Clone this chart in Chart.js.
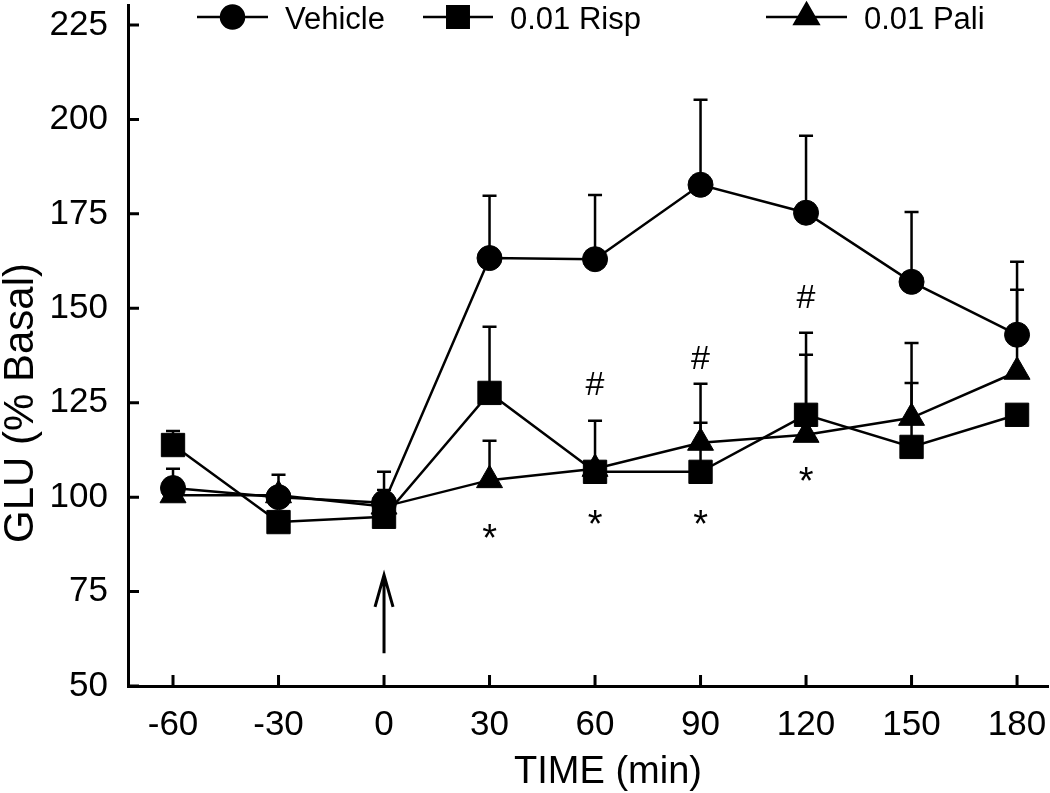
<!DOCTYPE html>
<html>
<head>
<meta charset="utf-8">
<script src="https://cdn.jsdelivr.net/npm/chart.js@4/dist/chart.umd.min.js"></script>
<style>
  body { margin: 0; background: #fff; }
  #wrap { width: 1050px; height: 793px; }
</style>
</head>
<body>
<div id="wrap"><canvas id="glu-chart"></canvas></div>
<script>
// time points (min) and mean GLU (% basal) with upper SEM
const timePoints = [-60, -30, 0, 30, 60, 90, 120, 150, 180];
const vehicle    = [102.4, 100.0, 98.5, 163.3, 163.0, 182.7, 175.3, 157.0, 143.0];
const vehicleErr = [5.1, 5.9, 8.2, 16.5, 17.0, 22.5, 20.4, 18.5, 19.3];
const risp       = [113.8, 93.4, 94.8, 127.6, 106.7, 106.7, 121.8, 113.3, 121.8];
const rispErr    = [3.7, 1.0, 7.1, 17.5, 13.5, 13.0, 21.7, 16.9, 1.0];
const pali       = [100.5, 100.5, 97.5, 104.5, 107.5, 114.4, 116.5, 121.0, 133.2];
const paliErr    = [3.0, 2.0, 1.0, 10.4, 1.0, 15.6, 21.2, 19.8, 21.7];

const xTicks = [-60, -30, 0, 30, 60, 90, 120, 150, 180];
const yTicks = [50, 75, 100, 125, 150, 175, 200, 225];

// significance marks, placed in data units
const marks = [
  { x: 30, y: 91, text: '*' },
  { x: 60, y: 94.8, text: '*' },
  { x: 90, y: 94.8, text: '*' },
  { x: 120, y: 106, text: '*' },
  { x: 60, y: 130.2, text: '#' },
  { x: 90, y: 137.1, text: '#' },
  { x: 120, y: 153, text: '#' }
];
// drug injection arrow at t = 0
const arrow = { x: 0, from: 58.7, to: 79.4 };

const FONT = '"Liberation Sans", Arial, Helvetica, sans-serif';

function pts(vals) {
  return timePoints.map((t, i) => ({ x: t, y: vals[i] }));
}

const errs = [vehicleErr, rispErr, paliErr];

const decor = {
  id: 'decor',
  beforeDatasetsDraw(chart) {
    const ctx = chart.ctx, xs = chart.scales.x, ys = chart.scales.y;
    ctx.save();
    ctx.strokeStyle = '#000';
    ctx.lineWidth = 2.5;
    chart.data.datasets.forEach((ds, di) => {
      ds.data.forEach((p, i) => {
        const px = xs.getPixelForValue(p.x);
        const py = ys.getPixelForValue(p.y);
        const top = ys.getPixelForValue(p.y + errs[di][i]);
        ctx.beginPath();
        ctx.moveTo(px, py);
        ctx.lineTo(px, top);
        ctx.moveTo(px - 7, top);
        ctx.lineTo(px + 7, top);
        ctx.stroke();
      });
    });
    ctx.restore();
  },
  afterDatasetsDraw(chart) {
    const ctx = chart.ctx, xs = chart.scales.x, ys = chart.scales.y;
    const area = chart.chartArea;
    ctx.save();
    ctx.strokeStyle = '#000';
    ctx.fillStyle = '#000';

    // inward tick marks
    ctx.lineWidth = 3;
    ctx.beginPath();
    yTicks.forEach(v => {
      const py = ys.getPixelForValue(v);
      ctx.moveTo(area.left, py);
      ctx.lineTo(area.left + 11, py);
    });
    xTicks.forEach(v => {
      const px = xs.getPixelForValue(v);
      ctx.moveTo(px, area.bottom);
      ctx.lineTo(px, area.bottom - 11);
    });
    ctx.stroke();

    // arrow
    const ax = xs.getPixelForValue(arrow.x);
    const a0 = ys.getPixelForValue(arrow.from);
    const a1 = ys.getPixelForValue(arrow.to);
    ctx.lineWidth = 3;
    ctx.beginPath();
    ctx.moveTo(ax, a0);
    ctx.lineTo(ax, a1);
    ctx.moveTo(ax - 9, a1 + 32);
    ctx.lineTo(ax, a1);
    ctx.lineTo(ax + 9, a1 + 32);
    ctx.stroke();

    // * and # marks
    ctx.textAlign = 'center';
    ctx.textBaseline = 'alphabetic';
    marks.forEach(m => {
      ctx.font = (m.text === '*' ? '38px ' : '34px ') + FONT;
      const px = xs.getPixelForValue(m.x);
      const py = ys.getPixelForValue(m.y);
      const tm = ctx.measureText(m.text);
      const off = (tm.actualBoundingBoxAscent - tm.actualBoundingBoxDescent) / 2;
      ctx.fillText(m.text, px, py + off);
    });

    // legend: line through marker, then label
    const legX = [197, 423, 766];
    const legW = [71, 70, 81];
    const legY = 17;
    ctx.font = '31px ' + FONT;
    ctx.textAlign = 'left';
    chart.data.datasets.forEach((ds, i) => {
      ctx.lineWidth = 2.5;
      ctx.beginPath();
      ctx.moveTo(legX[i], legY);
      ctx.lineTo(legX[i] + legW[i], legY);
      ctx.stroke();
      Chart.helpers.drawPoint(ctx, {
        pointStyle: ds.pointStyle,
        radius: ds.pointRadius * 0.92,
        borderWidth: 1
      }, legX[i] + legW[i] / 2, legY);
      ctx.fillStyle = '#000';
      ctx.fillText(ds.label, legX[i] + legW[i] + 17, 29);
    });

    // axis titles
    ctx.font = '38px ' + FONT;
    ctx.textAlign = 'center';
    ctx.fillText('TIME (min)', 608, 783);
    ctx.translate(33, 403);
    ctx.rotate(-Math.PI / 2);
    ctx.font = '42px ' + FONT;
    ctx.fillText('GLU (% Basal)', 0, 0);
    ctx.restore();
  }
};

const common = {
  borderColor: '#000',
  backgroundColor: '#000',
  pointBackgroundColor: '#000',
  pointBorderColor: '#000',
  pointBorderWidth: 1,
  borderWidth: 2.5,
  fill: false,
  tension: 0,
  clip: false
};

function noPad(s) {
  s.paddingTop = 0;
  s.paddingBottom = 0;
  s.paddingLeft = 0;
  s.paddingRight = 0;
}

new Chart(document.getElementById('glu-chart'), {
  type: 'line',
  data: {
    datasets: [
      Object.assign({ label: 'Vehicle', data: pts(vehicle), pointStyle: 'circle', pointRadius: 12.5 }, common),
      Object.assign({ label: '0.01 Risp', data: pts(risp), pointStyle: 'rect', pointRadius: 16.5 }, common),
      Object.assign({ label: '0.01 Pali', data: pts(pali), pointStyle: 'triangle', pointRadius: 15 }, common)
    ]
  },
  options: {
    responsive: true,
    maintainAspectRatio: false,
    animation: false,
    layout: { autoPadding: false, padding: { top: 5, right: 2, left: 0, bottom: 0 } },
    plugins: {
      legend: { display: false },
      tooltip: { enabled: false }
    },
    scales: {
      x: {
        type: 'linear',
        min: -72.8,
        max: 188.8,
        afterBuildTicks: s => { s.ticks = xTicks.map(v => ({ value: v })); },
        afterFit: s => { s.height = 107; noPad(s); },
        grid: { display: true, drawOnChartArea: false, drawTicks: false },
        border: { display: true, color: '#000', width: 3 },
        ticks: {
          autoSkip: false,
          maxRotation: 0,
          padding: 18,
          color: '#000',
          font: { family: FONT, size: 35 }
        }
      },
      y: {
        min: 50,
        max: 230.3,
        afterBuildTicks: s => { s.ticks = yTicks.map(v => ({ value: v })); },
        afterFit: s => { s.width = 128; noPad(s); },
        grid: { display: true, drawOnChartArea: false, drawTicks: false },
        border: { display: true, color: '#000', width: 3 },
        ticks: {
          padding: 20,
          color: '#000',
          font: { family: FONT, size: 35 }
        }
      }
    }
  },
  plugins: [decor]
});
</script>
</body>
</html>
